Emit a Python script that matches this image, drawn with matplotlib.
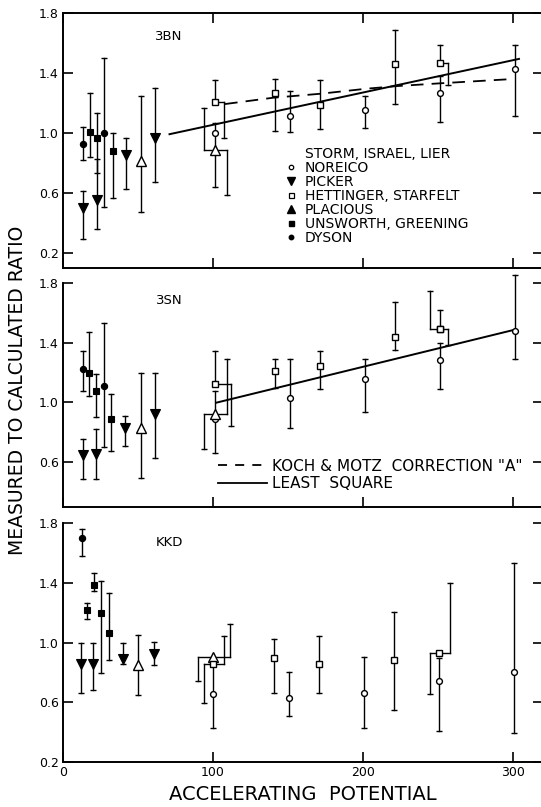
import matplotlib
matplotlib.use("Agg")
import matplotlib.pyplot as plt
from matplotlib.lines import Line2D

plt.rcParams["font.family"] = ["DejaVu Sans"]

# Each point: source, x (kV), ratio, top and bottom of its error bar,
# and a sideways shift (kV) used where the bar is drawn beside the point.

# ---- 3BN ----
bn_kind = ["dyson", "unsworth", "picker", "unsworth", "picker", "dyson", "unsworth",
           "picker", "placious", "picker",
           "hettinger", "noreico", "placious",
           "hettinger", "noreico", "hettinger", "noreico", "hettinger",
           "hettinger", "noreico", "noreico"]
bn_x = [13, 18, 13, 22.5, 22.5, 27.5, 33, 42, 52, 61.5,
        101.5, 101.5, 101.5,
        141.3, 151.6, 171.6, 201.6, 221.6, 251.3, 251.3, 301]
bn_y = [0.93, 1.01, 0.50, 0.97, 0.555, 1.00, 0.88, 0.855, 0.815, 0.965,
        1.21, 1.00, 0.89,
        1.265, 1.11, 1.19, 1.153, 1.458, 1.47, 1.27, 1.424]
bn_hi = [1.04, 1.27, 0.615, 1.135, 0.83, 1.50, 1.00, 0.965, 1.25, 1.30,
         1.355, 1.065, 1.165,
         1.36, 1.28, 1.353, 1.25, 1.687, 1.59, 1.38, 1.59]
bn_lo = [0.82, 0.84, 0.295, 0.735, 0.36, 0.505, 0.57, 0.63, 0.475, 0.675,
         0.97, 0.64, 0.59,
         1.013, 1.01, 1.024, 1.035, 1.193, 1.32, 1.075, 1.113]
bn_dhi = [0] * 12 + [-7.3] + [0] * 8
bn_dlo = [0] * 10 + [6, 0, 7.8] + [0] * 5 + [5.1, 0, 0]

bn_fit_x = [71, 304]
bn_fit_y = [0.992, 1.494]
bn_km_x = [108, 140, 172, 202, 223, 251, 300]
bn_km_y = [1.193, 1.235, 1.262, 1.295, 1.313, 1.331, 1.36]

# ---- 3SN ----
sn_kind = ["dyson", "unsworth", "unsworth", "dyson", "unsworth",
           "picker", "picker", "picker", "placious", "picker",
           "hettinger", "noreico", "placious",
           "hettinger", "noreico", "hettinger", "noreico", "hettinger",
           "hettinger", "hettinger", "noreico", "noreico"]
sn_x = [13, 17, 22, 27, 32, 13, 22, 41.3, 52, 61.6,
        101.3, 101.3, 101.3,
        141.3, 151.6, 171.3, 201.3, 221.3, 251.3, 251.3, 251.3, 301]
sn_y = [1.224, 1.198, 1.075, 1.109, 0.887, 0.647, 0.653, 0.831, 0.831, 0.92,
        1.124, 0.887, 0.925,
        1.213, 1.031, 1.247, 1.158, 1.436, 1.493, 1.493, 1.282, 1.476]
sn_hi = [1.342, 1.469, 1.193, 1.531, 1.06, 0.753, 0.824, 0.909, 1.198, 1.198,
         1.347, 1.075, 1.293,
         1.293, 1.293, 1.342, 1.293, 1.671, 1.62, 1.749, 1.40, 1.853]
sn_lo = [1.075, 1.042, 0.905, 0.704, 0.676, 0.487, 0.487, 0.709, 0.491, 0.631,
         0.842, 0.664, 0.687,
         1.098, 0.827, 1.087, 0.935, 1.353, 1.387, 1.493, 1.091, 1.291]
sn_dhi = [0] * 12 + [7.7] + [0] * 6 + [-6.6, 0, 0]
sn_dlo = [0] * 10 + [11, 0, -7.5] + [0] * 5 + [5.6, 0, 0, 0]

sn_fit_x = [102, 301]
sn_fit_y = [0.998, 1.487]

# ---- KKD ----
kd_kind = ["dyson", "unsworth", "unsworth", "unsworth", "unsworth",
           "picker", "picker", "picker", "placious", "picker",
           "placious", "hettinger", "noreico",
           "hettinger", "noreico", "hettinger", "noreico", "hettinger",
           "hettinger", "noreico", "noreico"]
kd_x = [12.7, 20.4, 15.8, 25.6, 30.9, 12, 20.2, 40.2, 50.2, 60.4,
        100.2, 100.2, 100.2,
        140.4, 150.9, 170.9, 200.9, 220.9, 250.9, 250.9, 300.9]
kd_y = [1.698, 1.387, 1.215, 1.198, 1.064, 0.853, 0.853, 0.891, 0.849, 0.925,
        0.90, 0.858, 0.653,
        0.893, 0.627, 0.853, 0.665, 0.88, 0.931, 0.742, 0.802]
kd_hi = [1.758, 1.464, 1.264, 1.409, 1.331, 0.998, 0.998, 0.998, 1.047, 1.002,
         1.125, 1.042, 0.84,
         1.025, 0.802, 1.042, 0.902, 1.202, 1.398, 0.898, 1.531]
kd_lo = [1.582, 1.342, 1.16, 0.793, 0.882, 0.665, 0.682, 0.853, 0.649, 0.847,
         0.742, 0.593, 0.425,
         0.665, 0.509, 0.665, 0.427, 0.549, 0.653, 0.405, 0.391]
kd_dhi = [0] * 10 + [11.4, 6.8, 0] + [0] * 5 + [7.3, 0, 0]
kd_dlo = [0] * 10 + [-10, -6.4, 0] + [0] * 5 + [-6, 0, 0]

legend_names = ["NOREICO", "PICKER", "HETTINGER, STARFELT", "PLACIOUS",
                "UNSWORTH, GREENING", "DYSON"]

styles = {
    "noreico": dict(marker="o", ms=4.2, mfc="white", mec="k", mew=1),
    "picker": dict(marker="v", ms=7, mfc="k", mec="k", mew=0.8),
    "hettinger": dict(marker="s", ms=4.7, mfc="white", mec="k", mew=1),
    "placious": dict(marker="^", ms=7, mfc="white", mec="k", mew=1),
    "unsworth": dict(marker="s", ms=5, mfc="k", mec="k", mew=0.8),
    "dyson": dict(marker="o", ms=4.5, mfc="k", mec="k", mew=0.8),
}
legend_styles = {
    "noreico": dict(marker="o", ms=3.2, mfc="white", mec="k", mew=0.9),
    "picker": dict(marker="v", ms=5.5, mfc="k", mec="k"),
    "hettinger": dict(marker="s", ms=3.6, mfc="white", mec="k", mew=0.9),
    "placious": dict(marker="^", ms=5.5, mfc="k", mec="k"),
    "unsworth": dict(marker="s", ms=3.6, mfc="k", mec="k"),
    "dyson": dict(marker="o", ms=3.2, mfc="k", mec="k"),
}


def draw_points(ax, kind, x, y, hi, lo, dhi, dlo):
    for k, xi, yi, h, l, dh, dl in zip(kind, x, y, hi, lo, dhi, dlo):
        for end, dx in ((h, dh), (l, dl)):
            if end == yi:
                continue
            xb = xi + dx
            if dx != 0:
                ax.plot([xi, xb], [yi, yi], color="k", lw=1, zorder=2)
            ax.plot([xb, xb], [yi, end], color="k", lw=1, zorder=2, clip_on=False)
            ax.plot([xb], [end], marker="_", ms=5, mew=1, color="k",
                    zorder=2, clip_on=False)
        ax.plot([xi], [yi], ls="none", zorder=3, **styles[k])


def style_axes(ax, yticks, ylim, top, xlabels):
    ax.set_xlim(0, 320)
    ax.set_ylim(*ylim)
    ax.set_xticks([0, 100, 200, 300])
    ax.set_yticks(yticks)
    ax.set_yticklabels(["%.1f" % v for v in yticks])
    if xlabels:
        ax.set_xticklabels(["0", "100", "200", "300"])
    else:
        ax.set_xticklabels([])
    ax.tick_params(direction="in", length=7, width=1.2, labelsize=9, pad=3,
                   top=top, right=True, labelright=False)
    ax.spines["top"].set_visible(top)
    for s in ax.spines.values():
        s.set_linewidth(1.4)


fig = plt.figure(figsize=(5.41, 8.07), dpi=100)
ax1 = fig.add_axes([63 / 541, 1 - 268 / 807, 480 / 541, 255 / 807])
ax2 = fig.add_axes([63 / 541, 1 - 507 / 807, 480 / 541, 224 / 807])
ax3 = fig.add_axes([63 / 541, 1 - 762 / 807, 480 / 541, 239 / 807])

# 3BN
draw_points(ax1, bn_kind, bn_x, bn_y, bn_hi, bn_lo, bn_dhi, bn_dlo)
ax1.plot(bn_fit_x, bn_fit_y, color="k", lw=1.4, zorder=1)
ax1.plot(bn_km_x, bn_km_y, color="k", lw=1.3, dashes=(7, 4.5), zorder=1)
style_axes(ax1, [0.2, 0.6, 1.0, 1.4, 1.8], (0.1, 1.8), True, False)
ax1.text(0.221, 0.906, "3BN", transform=ax1.transAxes, ha="center", va="center",
         fontsize=9.5)

handles = [Line2D([], [], ls="none")]
for k in ["noreico", "picker", "hettinger", "placious", "unsworth", "dyson"]:
    handles.append(Line2D([], [], ls="none", color="k", **legend_styles[k]))
ax1.legend(handles, ["STORM, ISRAEL, LIER"] + legend_names, loc="upper left",
           bbox_to_anchor=(0.463, 0.475), bbox_transform=ax1.transAxes,
           frameon=False, fontsize=10, handlelength=0.8, handletextpad=0.6,
           labelspacing=0.0, borderpad=0, borderaxespad=0)

# 3SN
draw_points(ax2, sn_kind, sn_x, sn_y, sn_hi, sn_lo, sn_dhi, sn_dlo)
ax2.plot(sn_fit_x, sn_fit_y, color="k", lw=1.4, zorder=1)
style_axes(ax2, [0.6, 1.0, 1.4, 1.8], (0.3, 1.8), False, False)
ax2.text(0.221, 0.921, "3SN", transform=ax2.transAxes, ha="center", va="center",
         fontsize=9.5)
line_handles = [Line2D([], [], color="k", lw=1.3, dashes=(5, 4.5)),
                Line2D([], [], color="k", lw=1.3)]
ax2.legend(line_handles, ['KOCH & MOTZ  CORRECTION "A"', "LEAST  SQUARE"],
           loc="upper left", bbox_to_anchor=(0.323, 0.215),
           bbox_transform=ax2.transAxes, frameon=False, fontsize=11,
           handlelength=3.2, handletextpad=0.35, labelspacing=0.15,
           borderpad=0, borderaxespad=0)

# KKD
draw_points(ax3, kd_kind, kd_x, kd_y, kd_hi, kd_lo, kd_dhi, kd_dlo)
style_axes(ax3, [0.2, 0.6, 1.0, 1.4, 1.8], (0.2, 1.8), False, True)
ax3.text(0.221, 0.9176, "KKD", transform=ax3.transAxes, ha="center", va="center",
         fontsize=9.5)
ax3.set_xlabel("ACCELERATING  POTENTIAL", fontsize=14, labelpad=4)

fig.text(0.032, 0.516, "MEASURED TO CALCULATED RATIO", rotation=90,
         ha="center", va="center", fontsize=13.5)

fig.savefig("out.png", dpi=100)
